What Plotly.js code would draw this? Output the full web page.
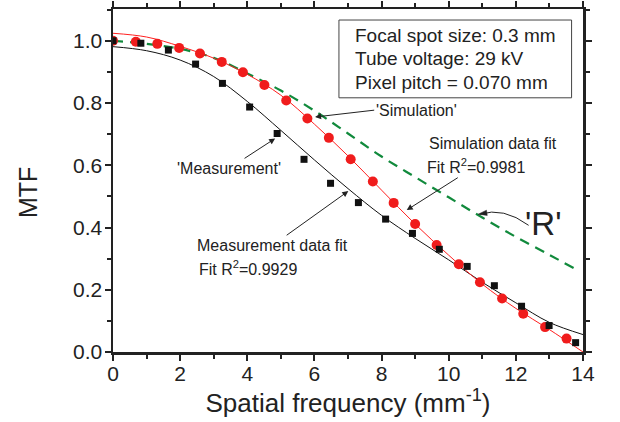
<!DOCTYPE html>
<html><head><meta charset="utf-8">
<script src="https://cdn.plot.ly/plotly-3.0.1.min.js"></script>
<style>html,body{margin:0;padding:0;background:#fff}#chart{width:620px;height:422px}</style>
</head><body><div id="chart"></div>
<script>
// Measurement points
var measX = [0.0, 0.83, 1.65, 2.46, 3.26, 4.07, 4.89, 5.69, 6.48, 7.31, 8.12, 8.92, 9.72, 10.55, 11.36, 12.17, 12.99, 13.78];
var measY = [1.0, 0.992, 0.970, 0.925, 0.863, 0.787, 0.702, 0.619, 0.542, 0.480, 0.427, 0.381, 0.330, 0.275, 0.213, 0.147, 0.085, 0.030];
// Simulation points
var simX = [0.0, 0.68, 1.32, 1.97, 2.59, 3.24, 3.87, 4.51, 5.16, 5.79, 6.43, 7.08, 7.74, 8.36, 9.0, 9.64, 10.30, 10.93, 11.59, 12.22, 12.87, 13.51];
var simY = [1.0, 0.997, 0.990, 0.977, 0.959, 0.932, 0.899, 0.858, 0.808, 0.750, 0.688, 0.619, 0.548, 0.479, 0.411, 0.344, 0.282, 0.224, 0.172, 0.123, 0.080, 0.043];
// Fit curves
var fitX = [0, 1, 2, 3, 4, 5, 6, 7, 8, 9, 10, 11, 12, 13, 14];
var measFitY = [0.981, 0.968, 0.938, 0.885, 0.805, 0.712, 0.617, 0.525, 0.439, 0.365, 0.296, 0.224, 0.158, 0.095, 0.056];
var simFitY = [1.024, 1.012, 0.982, 0.944, 0.892, 0.825, 0.732, 0.630, 0.520, 0.411, 0.311, 0.218, 0.140, 0.072, 0.0];
// 'R' curve
var rX = [0, 1, 2, 3, 4, 5, 6, 7, 8, 9, 10, 11, 12, 13, 13.8];
var rY = [1.0, 0.99, 0.974, 0.945, 0.895, 0.840, 0.775, 0.702, 0.628, 0.562, 0.497, 0.432, 0.370, 0.312, 0.265];

var xTicks = [0, 2, 4, 6, 8, 10, 12, 14];
var xTickText = ["0", "2", "4", "6", "8", "10", "12", "14"];
var yTicks = [0, 0.2, 0.4, 0.6, 0.8, 1.0];
var yTickText = ["0.0", "0.2", "0.4", "0.6", "0.8", "1.0"];

var boxLines = ["Focal spot size: 0.3 mm", "Tube voltage: 29 kV", "Pixel pitch = 0.070 mm"];

var FONT = "Liberation Sans, Arial, sans-serif";
var TXT = "#222";

var traces = [
  {x: rX, y: rY, mode: "lines", line: {color: "#118a3c", width: 2.2, dash: "10px,7px", shape: "spline"}, hoverinfo: "none"},
  {x: fitX, y: measFitY, mode: "lines", line: {color: "#111", width: 1, shape: "spline"}, hoverinfo: "none"},
  {x: fitX, y: simFitY, mode: "lines", line: {color: "#ff2020", width: 1, shape: "spline"}, hoverinfo: "none"},
  {x: simX, y: simY, mode: "markers", marker: {symbol: "circle", size: 10, color: "#f01c1c"}, hoverinfo: "none"},
  {x: measX, y: measY, mode: "markers", marker: {symbol: "square", size: 7, color: "#111"}, hoverinfo: "none"}
];

function txt(x, y, t, size, xa) {
  return {x: x, y: y, xref: "x", yref: "y", text: t, showarrow: false, xanchor: xa || "left", yanchor: "middle",
          font: {family: FONT, size: size, color: TXT}};
}
// text annotation whose arrow goes from the text to a head point
function txtArr(tx, ty, t, size, xa, hx, hy) {
  return {x: hx, y: hy, ax: tx, ay: ty, xref: "x", yref: "y", axref: "x", ayref: "y", text: t,
          xanchor: xa, yanchor: "middle", font: {family: FONT, size: size, color: TXT},
          showarrow: true, arrowhead: 2, arrowsize: 1.2, arrowwidth: 1, arrowcolor: "#222", standoff: 0, startstandoff: 0};
}

var annotations = [
  txt(7.15, 1.018, boxLines[0], 19),
  txt(7.15, 0.943, boxLines[1], 19),
  txt(7.15, 0.867, boxLines[2], 19),
  txtArr(7.78, 0.777, "'Simulation'", 16, "left", 6.02, 0.755),
  txt(9.34, 0.670, "Simulation data fit", 16),
  txtArr(10.81, 0.597, "Fit R<sup>2</sup>=0.9981", 16, "center", 8.75, 0.456),
  txtArr(3.46, 0.590, "'Measurement'", 16, "center", 4.83, 0.686),
  txtArr(4.757, 0.343, "Measurement data fit", 16, "center", 7.01, 0.517),
  txt(2.49, 0.271, "Fit R<sup>2</sup>=0.9929", 16),
  txt(12.22, 0.413, "'R'", 33),
  {x: -0.181, y: 0.466, xref: "paper", yref: "paper", text: "MTF", textangle: -90, showarrow: false,
   xanchor: "center", yanchor: "middle", font: {family: FONT, size: 25, color: TXT}}
];

var shapes = [
  {type: "rect", xref: "x", yref: "y", x0: 6.73, x1: 13.66, y0: 0.8167, y1: 1.0666,
   line: {color: "#444", width: 1}, fillcolor: "rgba(0,0,0,0)"},
  {type: "path", xref: "x", yref: "y", path: "M 12.38 0.407 Q 11.63 0.467 10.92 0.4425", line: {color: "#222", width: 1}},
  {type: "path", xref: "x", yref: "y", xsizemode: "pixel", ysizemode: "pixel", xanchor: 10.88, yanchor: 0.4428,
   path: "M 0 0 L 9 -1.2 L 8.2 4 Z", fillcolor: "#222", line: {color: "#222", width: 0.5}}
];

var axisCommon = {
  showline: true, linewidth: 2.5, linecolor: "#222", mirror: "ticks", ticks: "outside", ticklen: 6, tickwidth: 2,
  tickcolor: "#222", showgrid: false, zeroline: false,
  tickfont: {family: FONT, size: 21, color: TXT}
};

var layout = {
  width: 620, height: 422,
  margin: {l: 113, r: 37, t: 9, b: 70.3},
  paper_bgcolor: "#fff", plot_bgcolor: "#fff",
  showlegend: false,
  xaxis: Object.assign({}, axisCommon, {
    range: [0, 14], tickvals: xTicks, ticktext: xTickText, ticklabelstandoff: -5,
    minor: {dtick: 1, tick0: 0, ticks: "outside", ticklen: 4, tickwidth: 2, tickcolor: "#222"},
    title: {text: "Spatial frequency (mm<sup>-1</sup>)", font: {family: FONT, size: 26, color: TXT}, standoff: 2}
  }),
  yaxis: Object.assign({}, axisCommon, {
    range: [0, 1.102], tickvals: yTicks, ticktext: yTickText, ticklabelstandoff: -2,
    minor: {dtick: 0.1, tick0: 0, ticks: "outside", ticklen: 4, tickwidth: 2, tickcolor: "#222"}
  }),
  annotations: annotations,
  shapes: shapes
};

Plotly.newPlot("chart", traces, layout, {staticPlot: true, displayModeBar: false});
</script>
</body></html>
